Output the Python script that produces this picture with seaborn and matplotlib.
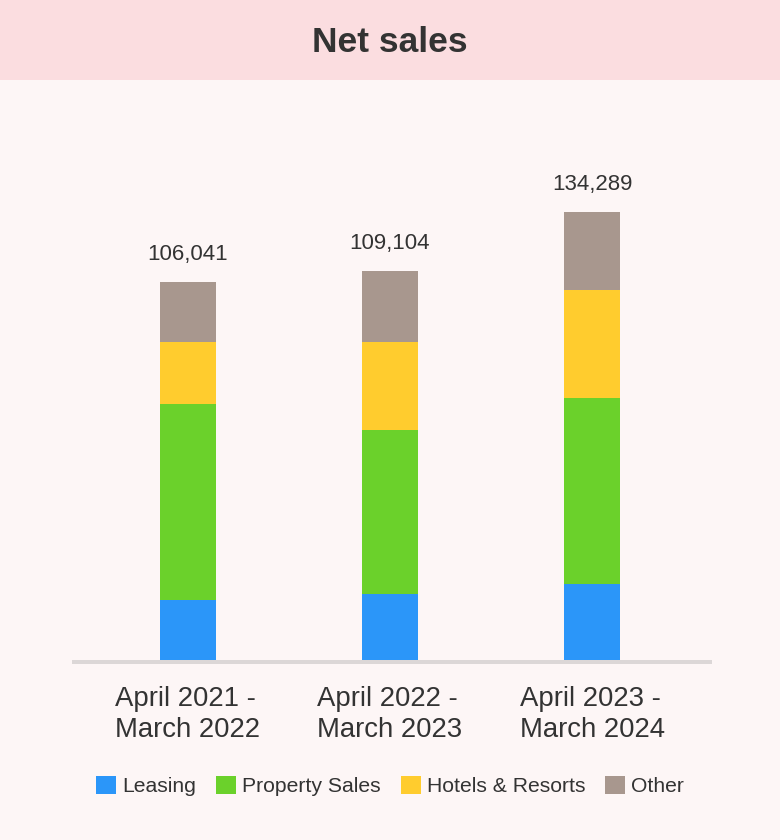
import matplotlib
matplotlib.use("Agg")
import matplotlib.pyplot as plt
import seaborn as sns
import pandas as pd
from matplotlib.patches import Patch, Rectangle

# ---- data (millions of yen) ----
periods = ["April 2021 -\nMarch 2022", "April 2022 -\nMarch 2023", "April 2023 -\nMarch 2024"]
segments = ["Leasing", "Property Sales", "Hotels & Resorts", "Other"]
leasing = [16820, 18500, 21320]
property_sales = [54960, 45990, 52180]
hotels_resorts = [17390, 24680, 30290]
other = [16871, 19934, 21880]
total_labels = ["106,041", "109,104", "134,289"]
colors = ["#2b96f9", "#6bd12b", "#ffcc2e", "#a8978e"]

sns.set_theme(style="white")
plt.rcParams["font.family"] = ["Liberation Sans", "DejaVu Sans"]

BG = "#fdf6f6"
BAND = "#fbdde0"
TXT = "#333333"
AXLINE = "#dcd7d7"
W, H = 780, 840

fig = plt.figure(figsize=(W / 100, H / 100), dpi=100, facecolor=BG)
fig.patches.append(Rectangle((0, 1 - 80 / H), 1, 80 / H, transform=fig.transFigure,
                             facecolor=BAND, edgecolor="none", zorder=0))
fig.text(0.5, 1 - 42 / H, "Net sales", ha="center", va="center",
         fontsize=25.5, fontweight="bold", color=TXT)

UNIT = 280.5  # value per pixel
top_px, base_px, left_px, right_px = 150, 660, 72, 712
ax = fig.add_axes([left_px / W, (H - base_px) / H, (right_px - left_px) / W, (base_px - top_px) / H])
ax.set_facecolor(BG)

data = pd.DataFrame({
    "period": periods,
    "Leasing": leasing,
    "Property Sales": property_sales,
    "Hotels & Resorts": hotels_resorts,
    "Other": other,
})
stack = data[segments].cumsum(axis=1)
stack["period"] = periods

for seg, col in reversed(list(zip(segments, colors))):
    sns.barplot(data=stack, x="period", y=seg, color=col, saturation=1, width=0.277,
                errorbar=None, linewidth=0, edgecolor="none", ax=ax, zorder=2)

ax.set_xlim(-0.574, 2.594)
ax.set_ylim(0, (base_px - top_px) * UNIT)
ax.axhline(-2 * UNIT, color=AXLINE, lw=4 * 0.72, clip_on=False, zorder=1,
           solid_capstyle="butt")
for s in ax.spines.values():
    s.set_visible(False)
ax.set_yticks([])
ax.set_xlabel("")
ax.set_ylabel("")
ax.set_xticks(range(len(periods)))
ax.set_xticklabels(periods, fontsize=19.8, color=TXT, linespacing=1.22)
for lab in ax.get_xticklabels():
    lab.set_multialignment("left")
ax.tick_params(axis="x", length=0, pad=19)

for i, lab in enumerate(total_labels):
    ax.annotate(lab, xy=(i, stack["Other"].iloc[i]), xytext=(0, 22 * 0.72),
                textcoords="offset points", ha="center", va="baseline",
                fontsize=16, color=TXT, annotation_clip=False)

handles = [Patch(facecolor=c, edgecolor="none", label=s) for s, c in zip(segments, colors)]
fig.legend(handles=handles, loc="center", bbox_to_anchor=(0.5, 1 - 786 / H), ncol=4,
           frameon=False, fontsize=15.2, handlelength=0.95, handleheight=0.95,
           handletextpad=0.28, columnspacing=0.95, labelcolor=TXT, borderaxespad=0)

fig.savefig("out.png", dpi=100, facecolor=BG)
